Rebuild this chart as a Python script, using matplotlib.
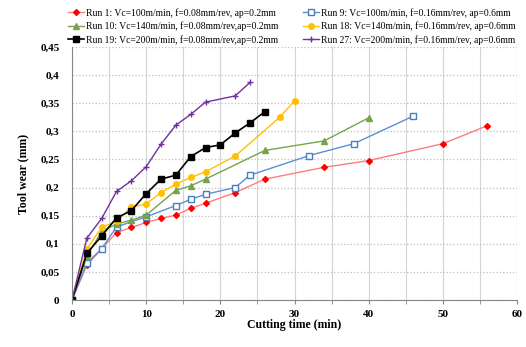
import matplotlib

matplotlib.use("Agg")
import matplotlib.pyplot as plt
from matplotlib.ticker import MultipleLocator, FuncFormatter

# cutting time (min) and tool wear (mm) per run
run1_t = [0, 2, 4, 6, 8, 10, 12, 14, 16, 18, 22, 26, 34, 40, 50, 56]
run1_w = [0, 0.062, 0.091, 0.120, 0.129, 0.138, 0.145, 0.151, 0.163, 0.172, 0.191, 0.215, 0.236, 0.248, 0.278, 0.310]

run9_t = [0, 2, 4, 6, 10, 14, 16, 18, 22, 24, 32, 38, 46]
run9_w = [0, 0.066, 0.091, 0.130, 0.148, 0.168, 0.179, 0.188, 0.200, 0.222, 0.257, 0.278, 0.327]

run10_t = [0, 2, 4, 6, 8, 10, 14, 16, 18, 26, 34, 40]
run10_w = [0, 0.078, 0.122, 0.135, 0.142, 0.151, 0.195, 0.203, 0.215, 0.266, 0.283, 0.324]

run18_t = [0, 2, 4, 6, 8, 10, 12, 14, 16, 18, 22, 28, 30]
run18_w = [0, 0.091, 0.129, 0.140, 0.165, 0.171, 0.191, 0.206, 0.218, 0.228, 0.256, 0.325, 0.354]

run19_t = [0, 2, 4, 6, 8, 10, 12, 14, 16, 18, 20, 22, 24, 26]
run19_w = [0, 0.083, 0.114, 0.146, 0.159, 0.189, 0.215, 0.222, 0.255, 0.271, 0.276, 0.297, 0.315, 0.335]

run27_t = [0, 2, 4, 6, 8, 10, 12, 14, 16, 18, 22, 24]
run27_w = [0, 0.110, 0.145, 0.193, 0.212, 0.237, 0.277, 0.311, 0.330, 0.352, 0.363, 0.387]

labels = [
    "Run 1: Vc=100m/min, f=0.08mm/rev, ap=0.2mm",
    "Run 9: Vc=100m/min, f=0.16mm/rev, ap=0.6mm",
    "Run 10: Vc=140m/min, f=0.08mm/rev,ap=0.2mm",
    "Run 18: Vc=140m/min, f=0.16mm/rev, ap=0.6mm",
    "Run 19: Vc=200m/min, f=0.08mm/rev,ap=0.2mm",
    "Run 27: Vc=200m/min, f=0.16mm/rev, ap=0.6mm",
]

plt.rcParams["font.family"] = ["Liberation Serif", "DejaVu Serif"]

fig = plt.figure(figsize=(5.26, 3.47), dpi=100)
ax = fig.add_axes([72 / 526, 1 - 300 / 347, 445 / 526, 253 / 347])

h1, = ax.plot(run1_t, run1_w, color="#ff7c80", lw=1, marker="D", ms=3,
              mfc="red", mec="red", label=labels[0])
h9, = ax.plot(run9_t, run9_w, color="#5b8fd6", lw=1, marker="s", ms=4,
              mfc="white", mec="#4a7ebb", label=labels[1])
h10, = ax.plot(run10_t, run10_w, color="#77a34c", lw=1, marker="^", ms=4,
               mfc="#77a34c", mec="#77a34c", label=labels[2])
h18, = ax.plot(run18_t, run18_w, color="#ffc000", lw=1, marker="o", ms=4,
               mfc="#ffc000", mec="#ffc000", label=labels[3])
h19, = ax.plot(run19_t, run19_w, color="black", lw=1.2, marker="s", ms=5,
               mfc="black", mec="black", label=labels[4])
h27, = ax.plot(run27_t, run27_w, color="#7030a0", lw=1, marker="+", ms=4,
               mew=1, label=labels[5])

ax.set_xlim(0, 60)
ax.set_ylim(0, 0.45)
ax.xaxis.set_major_locator(MultipleLocator(10))
ax.xaxis.set_minor_locator(MultipleLocator(5))
ax.yaxis.set_major_locator(MultipleLocator(0.05))
ax.yaxis.set_major_formatter(FuncFormatter(lambda v, p: f"{v:.2f}".rstrip("0").rstrip(".").replace(".", ",")))

ax.grid(axis="y", which="major", color="#bfbfbf", ls=":", lw=0.9)
ax.grid(axis="x", which="both", color="#d4d4d4", ls="-", lw=0.8)
ax.set_axisbelow(True)

for s in ["top", "right"]:
    ax.spines[s].set_visible(False)
for s in ["left", "bottom"]:
    ax.spines[s].set_color("#868686")
ax.tick_params(which="both", colors="#868686", length=3, labelcolor="black")
ax.tick_params(axis="y", length=0, pad=9)
ax.tick_params(axis="x", pad=4)
for lab in ax.get_xticklabels() + ax.get_yticklabels():
    lab.set_fontsize(8)
    lab.set_fontweight("bold")

ax.set_xlabel("Cutting time (min)", fontsize=8.5, fontweight="bold", labelpad=0)
ax.set_ylabel("Tool wear (mm)", fontsize=8.5, fontweight="bold", labelpad=8)

fig.legend(handles=[h1, h10, h19, h9, h18, h27], ncol=2, loc="upper left",
           bbox_to_anchor=(64 / 526, 1 - 4 / 347), frameon=False, fontsize=6.9,
           handlelength=1.7, handletextpad=0.15, columnspacing=2.6,
           labelspacing=0.4, borderaxespad=0)

fig.savefig("out.png", dpi=100)
